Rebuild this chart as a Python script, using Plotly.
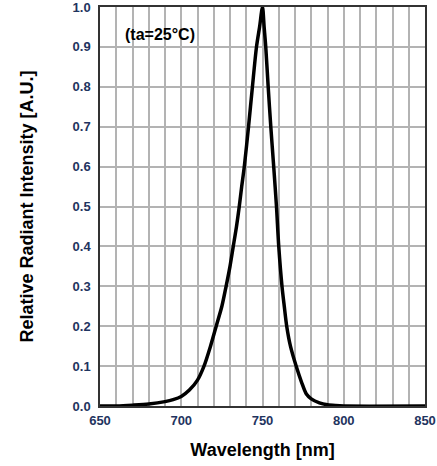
import plotly.graph_objects as go

wavelength = [650, 660, 670, 680, 690, 695, 700, 705, 710, 714, 718, 721.5, 725, 727.6,
              730, 732, 734, 735.7, 737.2, 738.8, 741.4, 743.8, 746.3, 748.2, 750,
              751, 752, 753.5, 755.1, 756.9, 758.6, 760, 762, 763.4, 764.9, 767.2,
              770.7, 774, 777, 780, 785, 790, 795, 800, 850]
intensity = [0.0, 0.0, 0.002, 0.005, 0.011, 0.016, 0.024, 0.040, 0.065, 0.10, 0.15, 0.20,
             0.25, 0.30, 0.35, 0.40, 0.45, 0.50, 0.55, 0.60, 0.70, 0.80, 0.90, 0.95, 1.0,
             0.95, 0.90, 0.80, 0.70, 0.60, 0.50, 0.40, 0.30, 0.25, 0.20, 0.15,
             0.10, 0.06, 0.03, 0.018, 0.008, 0.003, 0.001, 0.0, 0.0]

x_ticks = [650, 700, 750, 800, 850]
y_ticks = [0.0, 0.1, 0.2, 0.3, 0.4, 0.5, 0.6, 0.7, 0.8, 0.9, 1.0]

font_family = "Liberation Sans, Arial, sans-serif"
tick_color = "#1f3460"

fig = go.Figure()
fig.add_trace(go.Scatter(x=wavelength, y=intensity, mode="lines",
                         line=dict(color="black", width=3.5, shape="spline", smoothing=0.8),
                         showlegend=False, hoverinfo="skip"))

fig.update_layout(
    width=437, height=466,
    margin=dict(l=100, r=12, t=7, b=60),
    plot_bgcolor="white", paper_bgcolor="white",
    font=dict(family=font_family, color="black"),
    xaxis=dict(range=[650, 850], tickvals=x_ticks, ticktext=[str(v) for v in x_ticks],
               tickfont=dict(size=13, color=tick_color, family=font_family, weight="bold"),
               minor=dict(dtick=10, showgrid=True, gridcolor="#b3b3b3", gridwidth=1.5),
               showgrid=True, gridcolor="#b3b3b3", gridwidth=1.5,
               showline=True, linecolor="#333333", linewidth=1.5, mirror=True,
               zeroline=False, ticks="", ticklabelstandoff=2, automargin=False,
               ticklabeloverflow="allow",
               title=dict(text="<b>Wavelength [nm]</b>", font=dict(size=18, family=font_family),
                          standoff=16)),
    yaxis=dict(range=[0, 1.0], tickvals=y_ticks, ticktext=[f"{v:.1f}" for v in y_ticks],
               tickfont=dict(size=13, color=tick_color, family=font_family, weight="bold"),
               showgrid=True, gridcolor="#b3b3b3", gridwidth=1.5,
               showline=True, linecolor="#333333", linewidth=1.5, mirror=True,
               zeroline=False, ticks="", ticklabelstandoff=5, automargin=False,
               ticklabeloverflow="allow",
               title=dict(text="<b>Relative Radiant Intensity [A.U.]</b>",
                          font=dict(size=18, family=font_family), standoff=34)),
    annotations=[dict(text="<b>(ta=25°C)</b>", x=0.07, y=0.93, xref="paper", yref="paper",
                      xanchor="left", yanchor="middle", showarrow=False,
                      font=dict(size=16, family=font_family, color="black"))],
)

fig.write_html("out.html")
